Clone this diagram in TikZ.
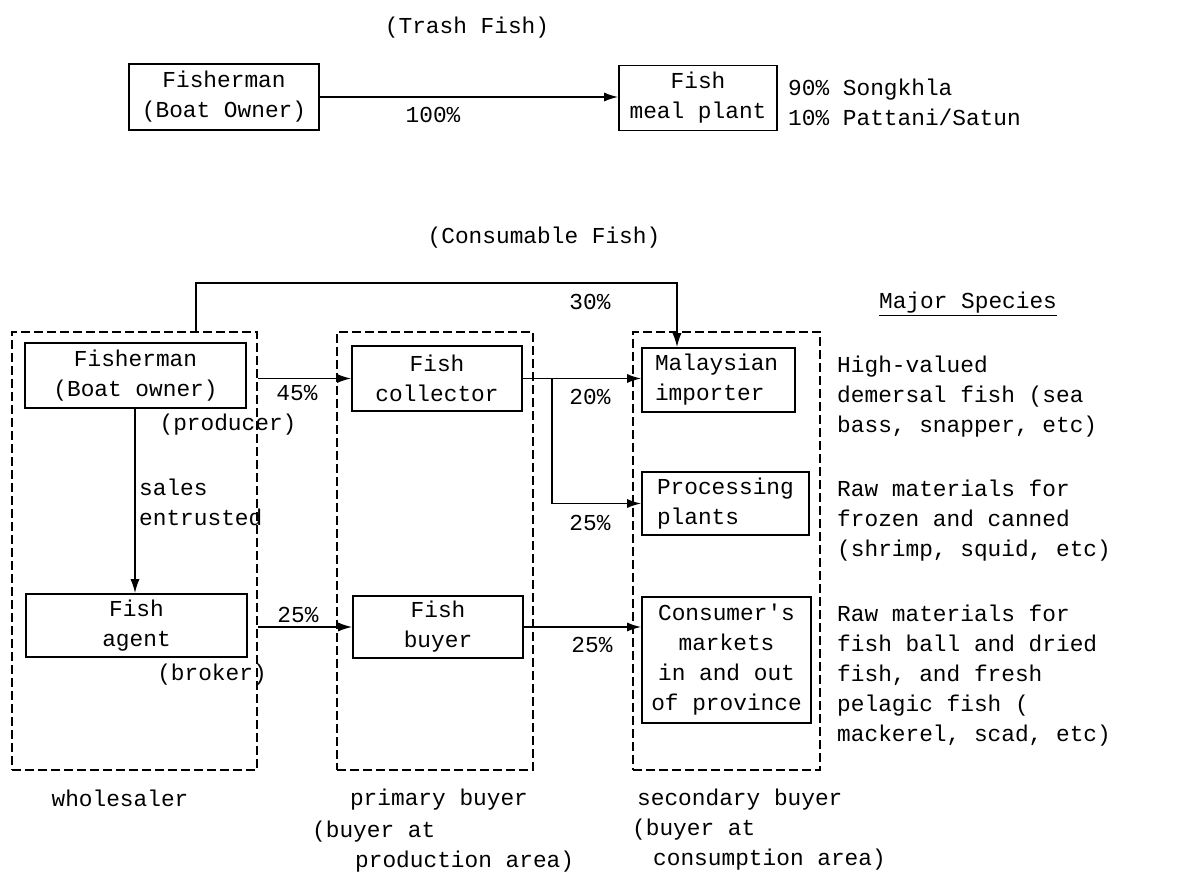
\documentclass[tikz,border=0pt]{standalone}
\usepackage{fontspec}
\setmainfont{Liberation Mono}[Ligatures=TeXOff]
\usetikzlibrary{arrows.meta}

\begin{document}
\begin{tikzpicture}[x=1pt,y=-1pt,>={Latex[length=14pt,width=9pt]},
  every node/.style={inner sep=0pt,font=\fontsize{22.8}{30}\selectfont},
  box/.style={draw,line width=1.6pt,align=center},
  group/.style={draw,line width=1.8pt,dash pattern=on 9pt off 4pt},
  flow/.style={->,line width=1.6pt}]
  \useasboundingbox[fill=white] (0,0) rectangle (1178,877);
  % trash fish
  \node (trash) at (467,28) {(Trash Fish)};
  \node[box,minimum width=190,minimum height=66] (fisher0) at (224,97) {Fisherman\\(Boat Owner)};
  \node[box,minimum width=158,minimum height=65] (plant) at (698,98) {Fish\\meal plant};
  \draw[flow] (fisher0.east) -- (plant.west |- fisher0.east);
  \node (p100) at (433,115) {100\%};
  \node[anchor=west,align=left] (ports) at (788,102) {90\% Songkhla\\10\% Pattani/Satun};

  % consumable fish
  \node (consum) at (544,238) {(Consumable Fish)};
  \node[group,minimum width=245,minimum height=438] (whole)  at (134.5,551) {};
  \node[group,minimum width=196,minimum height=438] (prim)   at (435,551) {};
  \node[group,minimum width=187,minimum height=438] (second) at (726.5,551) {};

  \node[box,minimum width=221,minimum height=65] (fisher) at (135.5,375.5) {Fisherman\\(Boat owner)};
  \node[box,minimum width=221,minimum height=63] (agent) at (136.5,625.5) {Fish\\agent};
  \node[box,minimum width=170,minimum height=65] (collector) at (437,378.5) {Fish\\collector};
  \node[box,minimum width=170,minimum height=62] (buyer) at (438,627) {Fish\\buyer};
  \node[box,minimum width=153,minimum height=64,align=left,text width=127] (importer) at (718.5,380) {Malaysian\\importer};
  \node[box,minimum width=167,minimum height=63,align=left,text width=137] (proc) at (725.5,503.5) {Processing\\plants};
  \node[box,minimum width=169,minimum height=126] (consumer) at (726.5,660) {Consumer's\\markets\\in and out\\of province};

  \coordinate (up) at (196,283);
  \coordinate (drop) at (677,283);
  \coordinate (split) at (552,378.5);
  \draw[flow] (up |- whole.north) -- (up) -- (drop) -- (drop |- importer.north);
  \draw[flow] (whole.east |- collector.west) -- (collector.west);
  \draw[flow] (collector.east) -- (importer.west |- collector.east);
  \draw[flow] (split) |- (proc.west);
  \draw[flow] (fisher.south -| 135,0) -- (agent.north -| 135,0);
  \draw[flow] (whole.east |- buyer.west) -- (buyer.west);
  \draw[flow] (buyer.east) -- (consumer.west |- buyer.east);

  \node (p30) at (590,302) {30\%};
  \node (p45) at (297,393) {45\%};
  \node (p20) at (590,397) {20\%};
  \node (p25a) at (590,523) {25\%};
  \node (p25b) at (298,615) {25\%};
  \node (p25c) at (592,645) {25\%};
  \node (producer) at (228,425) {(producer)};
  \node (broker) at (212,675) {(broker)};
  \node[anchor=west,align=left] (sales) at (139,502) {sales\\entrusted};

  % major species
  \node (species) at (968,304) {\underline{Major Species}};
  \node[anchor=west,align=left] (sp1) at (837,397) {High-valued\\demersal fish (sea\\bass, snapper, etc)};
  \node[anchor=west,align=left] (sp2) at (837,521) {Raw materials for\\frozen and canned\\(shrimp, squid, etc)};
  \node[anchor=west,align=left] (sp3) at (837,676) {Raw materials for\\fish ball and dried\\fish, and fresh\\pelagic fish (\\mackerel, scad, etc)};

  % group names
  \node (wlabel) at (120,798) {wholesaler};
  \node (plabel) at (439,800) {primary buyer};
  \node[anchor=west,align=left] (parea) at (312,847) {(buyer at\\\hspace*{43pt}production area)};
  \node[anchor=west] (slabel) at (637,800) {secondary buyer};
  \node[anchor=west,align=left] (sarea) at (632,845) {(buyer at\\\hspace*{21pt}consumption area)};
\end{tikzpicture}
\end{document}
